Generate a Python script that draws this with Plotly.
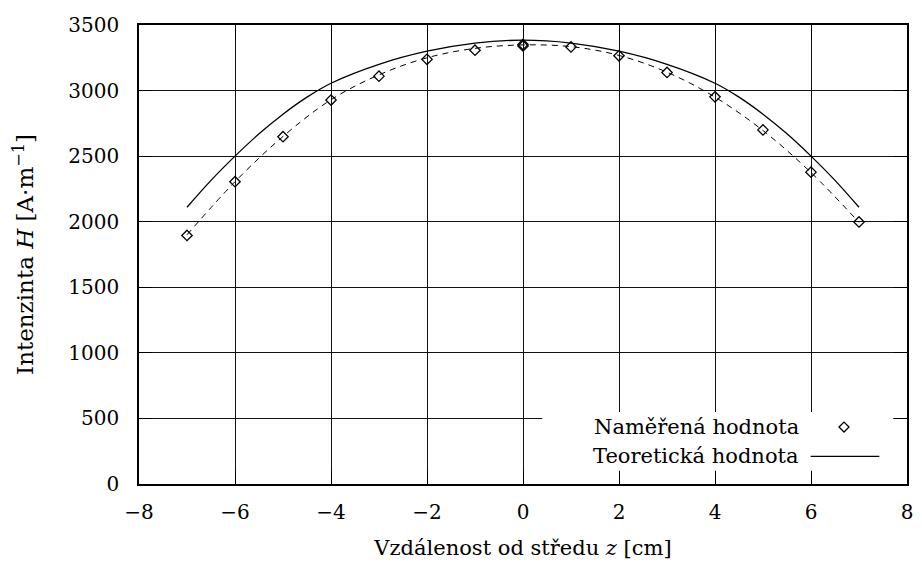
import plotly.graph_objects as go

# Measured values (diamonds)
meas_z = [-7, -6, -5, -4, -3, -2, -1, 0, 0, 1, 2, 3, 4, 5, 6, 7]
meas_H = [1895, 2305, 2648, 2928, 3110, 3238, 3308, 3340, 3352, 3333, 3265, 3138, 2952, 2700, 2378, 1998]

# Dashed fit through measured values
fit_z = [-7, -6, -5, -4, -3, -2, -1, 0, 1, 2, 3, 4, 5, 6, 7]
fit_H = [1900, 2305, 2650, 2930, 3120, 3250, 3322, 3348, 3335, 3268, 3140, 2950, 2695, 2375, 1995]

# Theoretical curve (solid)
theo_z = [-7, -6.5, -6, -5.5, -5, -4.5, -4, -3, -2, -1, 0, 1, 2, 3, 4, 4.5, 5, 5.5, 6, 6.5, 7]
theo_H = [2110, 2315, 2500, 2670, 2820, 2950, 3056, 3200, 3300, 3362, 3384, 3362, 3300, 3200, 3056, 2950, 2820, 2670, 2500, 2315, 2110]

x_ticks = [-8, -6, -4, -2, 0, 2, 4, 6, 8]
y_ticks = [0, 500, 1000, 1500, 2000, 2500, 3000, 3500]

legend_labels = ["Naměřená hodnota", "Teoretická hodnota"]

FONT = "DejaVu Serif"
FS = 20

fig = go.Figure()
fig.add_trace(go.Scatter(x=fit_z, y=fit_H, mode="lines", line=dict(color="black", width=1, dash="6px,5px", shape="spline"),
                         showlegend=False, hoverinfo="skip"))
fig.add_trace(go.Scatter(x=theo_z, y=theo_H, mode="lines", line=dict(color="black", width=1.3, shape="spline"),
                         name=legend_labels[1], showlegend=False))
fig.add_trace(go.Scatter(x=meas_z, y=meas_H, mode="markers",
                         marker=dict(symbol="diamond-open", size=8, color="black", line=dict(width=1.3, color="black")),
                         name=legend_labels[0], showlegend=False))

axis_common = dict(
    showline=True, linecolor="black", linewidth=1.5, mirror="ticks",
    ticks="inside", ticklen=13, tickwidth=1, tickcolor="black",
    showgrid=True, gridcolor="#111", gridwidth=1, zeroline=False,
    tickfont=dict(family=FONT, size=FS, color="black"),
)

fig.update_xaxes(range=[-8, 8], tickvals=x_ticks, ticklabelstandoff=9,
                 title=dict(text="Vzdálenost od středu <i>z</i> [cm]", font=dict(family=FONT, size=21, color="black"), standoff=18),
                 **axis_common)
fig.update_yaxes(range=[0, 3500], tickvals=y_ticks, ticklabelstandoff=14,
                 title=dict(text="Intenzinta <i>H</i> [A·m<sup>−1</sup>]", font=dict(family=FONT, size=23, color="black"), standoff=28),
                 **axis_common)

# Custom gnuplot-style legend (text left, sample right)
shapes = [
    dict(type="rect", xref="paper", yref="paper", x0=0.525, x1=0.982, y0=0.029, y1=0.157,
         fillcolor="white", line=dict(width=0), layer="above"),
    dict(type="path", xref="paper", yref="paper", xsizemode="pixel", ysizemode="pixel",
         xanchor=0.918, yanchor=0.124, path="M -5 0 L 0 5 L 5 0 L 0 -5 Z",
         line=dict(color="black", width=1.3), layer="above"),
    dict(type="line", xref="paper", yref="paper", x0=0.8745, x1=0.964, y0=0.060, y1=0.060,
         line=dict(color="black", width=1.3), layer="above"),
]
annotations = [
    dict(xref="paper", yref="paper", x=0.862, y=0.124, text=legend_labels[0], showarrow=False,
         xanchor="right", yanchor="middle", font=dict(family=FONT, size=21, color="black")),
    dict(xref="paper", yref="paper", x=0.862, y=0.060, text=legend_labels[1], showarrow=False,
         xanchor="right", yanchor="middle", font=dict(family=FONT, size=21, color="black")),
]

fig.update_layout(
    width=922, height=572,
    margin=dict(l=139, r=9, t=25, b=88),
    paper_bgcolor="white", plot_bgcolor="white",
    shapes=shapes, annotations=annotations,
    font=dict(family=FONT, size=FS, color="black"),
)

fig.write_html("out.html")
